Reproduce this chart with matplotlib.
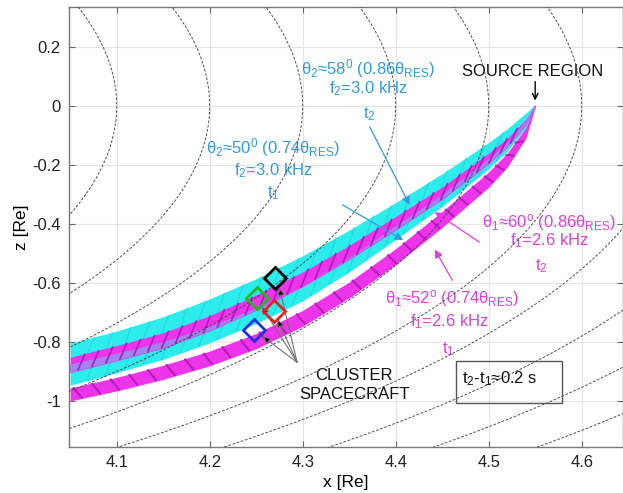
import numpy as np
import matplotlib
matplotlib.use("Agg")
import matplotlib.pyplot as plt
from matplotlib.patches import Rectangle

plt.rcParams['font.family'] = ['Liberation Sans', 'DejaVu Sans']
plt.rcParams['mathtext.fontset'] = 'custom'
plt.rcParams['mathtext.rm'] = 'Liberation Sans'
plt.rcParams['mathtext.it'] = 'Liberation Sans'
plt.rcParams['mathtext.sf'] = 'Liberation Sans'
plt.rcParams['mathtext.default'] = 'rm'

# ---------------- data ----------------
field_L = [4.1, 4.2, 4.3, 4.4, 4.5, 4.6, 4.7, 4.8, 4.9, 5.0, 5.1, 5.2]

band_x = [4.05, 4.10, 4.15, 4.20, 4.25, 4.30, 4.35, 4.40, 4.45, 4.50, 4.52, 4.54, 4.55]

# cyan, theta2=58 deg, t2
c2_mid = [-0.832, -0.792, -0.745, -0.685, -0.617, -0.538, -0.450, -0.355, -0.255, -0.145, -0.095, -0.035, 0.0]
c2_hw = [0.028, 0.029, 0.030, 0.031, 0.031, 0.030, 0.029, 0.027, 0.025, 0.021, 0.017, 0.011, 0.003]
# magenta, theta1=60 deg, t2
p2_mid = [-0.878, -0.838, -0.795, -0.737, -0.667, -0.588, -0.497, -0.398, -0.296, -0.178, -0.125, -0.055, 0.0]
p2_hw = [0.026, 0.026, 0.026, 0.026, 0.026, 0.025, 0.024, 0.023, 0.021, 0.018, 0.015, 0.010, 0.003]
# cyan, theta2=50 deg, t1
c1_mid = [-0.912, -0.872, -0.830, -0.776, -0.712, -0.637, -0.540, -0.431, -0.322, -0.197, -0.140, -0.064, 0.0]
c1_hw = [0.035, 0.032, 0.029, 0.027, 0.025, 0.024, 0.023, 0.022, 0.019, 0.016, 0.014, 0.010, 0.003]
# magenta, theta1=52 deg, t1
p1_mid = [-0.978, -0.943, -0.903, -0.856, -0.797, -0.720, -0.624, -0.511, -0.385, -0.250, -0.184, -0.092, 0.0]
p1_hw = [0.022, 0.023, 0.024, 0.025, 0.026, 0.027, 0.027, 0.027, 0.027, 0.026, 0.024, 0.018, 0.004]

p1_ticks = [4.055, 4.075, 4.095, 4.115, 4.135, 4.155, 4.175, 4.195, 4.215, 4.235, 4.255, 4.275,
            4.295, 4.315, 4.335, 4.355, 4.375, 4.393, 4.41, 4.425, 4.44, 4.455, 4.47, 4.484,
            4.497, 4.509, 4.52, 4.53]
p2_ticks = [4.06, 4.075, 4.09, 4.105, 4.12, 4.135, 4.15, 4.165, 4.18, 4.195, 4.21, 4.225,
            4.24, 4.255, 4.27, 4.285, 4.30, 4.315, 4.33, 4.345, 4.36, 4.375, 4.39, 4.405,
            4.42, 4.435, 4.45, 4.463, 4.476, 4.489, 4.502, 4.514, 4.525]
c_ticks = [4.07, 4.09, 4.11, 4.13, 4.15, 4.17, 4.19, 4.21, 4.23, 4.25, 4.27, 4.29, 4.31,
           4.33, 4.35, 4.37, 4.39, 4.41, 4.43, 4.45, 4.47, 4.49, 4.51]

sc_names = ['C1', 'C2', 'C3', 'C4']
sc_x = [4.270, 4.251, 4.269, 4.248]
sc_z = [-0.584, -0.652, -0.696, -0.761]
sc_colors = ['black', '#22b822', '#e82020', '#2030d8']
sc_tip_x = [4.275, 4.256, 4.273, 4.257]
sc_tip_z = [-0.617, -0.680, -0.724, -0.782]
sc_hub = (4.294, -0.869)

xticks = [4.1, 4.2, 4.3, 4.4, 4.5, 4.6]
yticks = [0.2, 0, -0.2, -0.4, -0.6, -0.8, -1]

# ---------------- figure ----------------
fig = plt.figure(figsize=(6.23, 4.93), dpi=100)
ax = fig.add_axes([69 / 623, 1 - 447 / 493, (622.5 - 69) / 623, (447 - 7) / 493])
ax.set_xlim(4.0487, 4.6439)
ax.set_ylim(-1.156, 0.3348)

ax.set_xticks(xticks)
ax.set_yticks(yticks)
ax.set_xticklabels(['4.1', '4.2', '4.3', '4.4', '4.5', '4.6'])
ax.set_yticklabels(['0.2', '0', '-0.2', '-0.4', '-0.6', '-0.8', '-1'])
ax.grid(True, color='#e4e4e4', lw=0.8, zorder=0)
ax.set_axisbelow(True)
ax.tick_params(direction='in', top=True, right=True, length=4, width=0.8,
               color='#666666', labelsize=12, labelcolor='#222222', pad=6)
for s in ax.spines.values():
    s.set_color('#777777')
    s.set_linewidth(1.0)
ax.set_xlabel('x [Re]', fontsize=12.5, labelpad=3)
ax.set_ylabel('z [Re]', fontsize=12.5, labelpad=2)

# dipole field lines
lam = np.linspace(-0.7, 0.7, 800)
for L in field_L:
    r = L * np.cos(lam) ** 2
    ax.plot(r * np.cos(lam), r * np.sin(lam), color='#444444', lw=0.65,
            ls=(0, (3.0, 1.8)), zorder=4)

bx = np.array(band_x)
cyan = '#2cecec'
pink = '#ee34ea'
overlap = '#a282ee'


def edges(mid, hw):
    m = np.array(mid)
    h = np.array(hw)
    return m + h, m - h


def draw_ticks(mid, hw, xs, dxu, dxl, color, lw, alpha, z):
    up, lo = edges(mid, hw)
    for xt in xs:
        xu = xt + dxu
        xl = xt + dxl
        zu = np.interp(xu, bx, up)
        zl = np.interp(xl, bx, lo)
        ax.plot([xu, xl], [zu, zl], color=color, lw=lw, alpha=alpha,
                solid_capstyle='butt', zorder=z)


# bands
u, l = edges(c2_mid, c2_hw)
ax.fill_between(bx, u, l, color=cyan, lw=0, zorder=2)
draw_ticks(c2_mid, c2_hw, c_ticks, 0.006, -0.002, '#14c0cc', 1.0, 0.35, 2.05)

c1u, c1l = edges(c1_mid, c1_hw)
ax.fill_between(bx, c1u, c1l, color=cyan, lw=0, zorder=2)
draw_ticks(c1_mid, c1_hw, c_ticks, 0.006, -0.002, '#14c0cc', 1.0, 0.35, 2.05)

u, l = edges(p1_mid, p1_hw)
ax.fill_between(bx, u, l, color=pink, lw=0, zorder=2.2)
draw_ticks(p1_mid, p1_hw, p1_ticks, -0.002, 0.008, '#b81cb8', 1.5, 1.0, 2.3)

p2u, p2l = edges(p2_mid, p2_hw)
ax.fill_between(bx, p2u, p2l, color=pink, lw=0, zorder=2.4)
# region where the t2 magenta band and t1 cyan band overlap
ov_u = np.minimum(p2u, c1u)
ov_l = np.maximum(p2l, c1l)
ax.fill_between(bx, ov_u, ov_l, where=ov_u > ov_l, interpolate=True, color=overlap, lw=0, zorder=2.45)
draw_ticks(p2_mid, p2_hw, p2_ticks, 0.006, -0.002, '#a41cbc', 1.3, 0.9, 2.5)

# ---------------- annotations ----------------
blue = '#2e9de0'
mag = '#e03ee0'
fs = 12

ax.text(4.547, 0.102, 'SOURCE REGION', ha='center', va='baseline', fontsize=fs, color='#111111')
ax.annotate('', xy=(4.55, 0.018), xytext=(4.55, 0.082),
            arrowprops=dict(arrowstyle='->', color='black', lw=1.0, mutation_scale=10,
                            shrinkA=0, shrinkB=0), zorder=6)

ax.text(4.370, 0.105, 'θ$_2$≈58$^0$ (0.86θ$_{RES}$)', ha='center', va='baseline', fontsize=fs, color=blue)
ax.text(4.371, 0.044, 'f$_2$=3.0 kHz', ha='center', va='baseline', fontsize=fs, color=blue)
ax.text(4.372, -0.041, 't$_2$', ha='center', va='baseline', fontsize=fs, color=blue)
ax.annotate('', xy=(4.415, -0.336), xytext=(4.372, -0.071),
            arrowprops=dict(arrowstyle='-|>', color=blue, lw=0.9, mutation_scale=12,
                            shrinkA=0, shrinkB=0), zorder=6)

ax.text(4.268, -0.160, 'θ$_2$≈50$^0$ (0.74θ$_{RES}$)', ha='center', va='baseline', fontsize=fs, color=blue)
ax.text(4.268, -0.234, 'f$_2$=3.0 kHz', ha='center', va='baseline', fontsize=fs, color=blue)
ax.text(4.268, -0.309, 't$_1$', ha='center', va='baseline', fontsize=fs, color=blue)
ax.annotate('', xy=(4.408, -0.455), xytext=(4.343, -0.336),
            arrowprops=dict(arrowstyle='-|>', color=blue, lw=0.9, mutation_scale=12,
                            shrinkA=0, shrinkB=0), zorder=6)

ax.text(4.565, -0.411, 'θ$_1$≈60$^o$ (0.86θ$_{RES}$)', ha='center', va='baseline', fontsize=fs, color=mag)
ax.text(4.565, -0.472, 'f$_1$=2.6 kHz', ha='center', va='baseline', fontsize=fs, color=mag)
ax.text(4.557, -0.557, 't$_2$', ha='center', va='baseline', fontsize=fs, color=mag)
ax.annotate('', xy=(4.442, -0.360), xytext=(4.49, -0.462),
            arrowprops=dict(arrowstyle='-|>', color=mag, lw=0.9, mutation_scale=12,
                            shrinkA=0, shrinkB=0), zorder=1.5)

ax.text(4.461, -0.669, 'θ$_1$≈52$^o$ (0.74θ$_{RES}$)', ha='center', va='baseline', fontsize=fs, color=mag)
ax.text(4.458, -0.747, 'f$_1$=2.6 kHz', ha='center', va='baseline', fontsize=fs, color=mag)
ax.text(4.457, -0.839, 't$_1$', ha='center', va='baseline', fontsize=fs, color=mag)
ax.annotate('', xy=(4.442, -0.487), xytext=(4.461, -0.591),
            arrowprops=dict(arrowstyle='-|>', color=mag, lw=0.9, mutation_scale=12,
                            shrinkA=0, shrinkB=0), zorder=6)

for i in range(4):
    ax.annotate('', xy=(sc_tip_x[i], sc_tip_z[i]), xytext=sc_hub,
                arrowprops=dict(arrowstyle='-|>', ec='#707070', fc='black', lw=0.8,
                                mutation_scale=11, shrinkA=0, shrinkB=0), zorder=6)
    ax.plot(sc_x[i], sc_z[i], marker='D', ms=11.5, mfc='none', mec=sc_colors[i], mew=2.0,
            ls='none', zorder=7)

ax.text(4.355, -0.930, 'CLUSTER', ha='center', va='baseline', fontsize=fs, color='#111111')
ax.text(4.356, -0.995, 'SPACECRAFT', ha='center', va='baseline', fontsize=fs, color='#111111')

ax.add_patch(Rectangle((4.465, -1.008), 0.114, 0.142, fill=False, ec='#555555', lw=1.0, zorder=6))
ax.text(4.471, -0.941, 't$_2$-t$_1$≈0.2 s', ha='left', va='baseline', fontsize=fs, color='#111111', zorder=7)

fig.savefig('out.png', dpi=100)
